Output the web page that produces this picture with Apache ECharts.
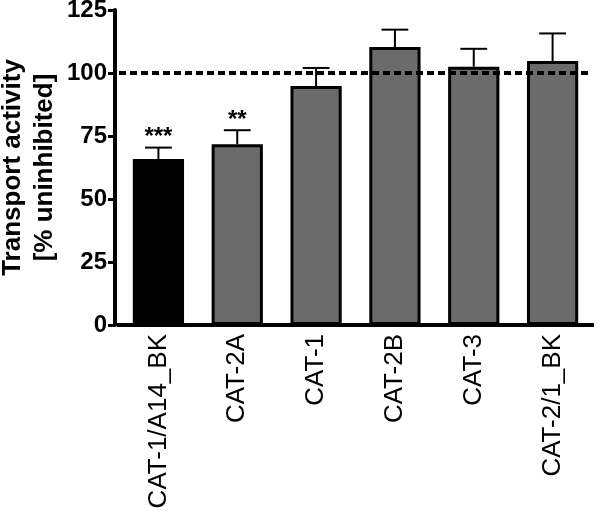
<!DOCTYPE html>
<html><head><meta charset="utf-8">
<script src="https://cdn.jsdelivr.net/npm/echarts@6/dist/echarts.min.js"></script>
<style>html,body{margin:0;padding:0;background:#fff}#c{width:600px;height:513px}</style>
</head><body><div id="c"></div>
<script>
const categories = ['CAT-1/A14_BK', 'CAT-2A', 'CAT-1', 'CAT-2B', 'CAT-3', 'CAT-2/1_BK'];
const means = [65.9, 71.7, 94.8, 110.3, 102.5, 104.8];
const errors = [4.5, 5.6, 7.2, 6.9, 7.1, 10.9];
const significance = ['***', '**', '', '', '', ''];
const barColors = ['#000000', '#6b6b6b', '#6b6b6b', '#6b6b6b', '#6b6b6b', '#6b6b6b'];
const yMin = 0, yMax = 125, yInterval = 25;
const referenceLevel = 100;
const yTitle = 'Transport activity\n[% uninhibited]';

const FONT = '"Liberation Sans", Arial, sans-serif';
const chart = echarts.init(document.getElementById('c'), null, {renderer: 'canvas'});

chart.setOption({
  animation: false,
  backgroundColor: '#fff',
  grid: {left: 119, right: 8, top: 10, bottom: 188, containLabel: false, outerBoundsMode: 'none'},
  xAxis: {
    type: 'category',
    data: categories,
    axisLine: {lineStyle: {color: '#000', width: 4, cap: 'square'}},
    axisTick: {show: false},
    axisLabel: {rotate: 90, fontSize: 26, color: '#000', fontFamily: FONT, margin: 9}
  },
  yAxis: {
    type: 'value',
    min: yMin, max: yMax, interval: yInterval,
    offset: 4,
    name: yTitle,
    nameLocation: 'middle',
    nameGap: 54,
    nameMoveOverlap: false,
    nameTextStyle: {fontSize: 26, fontWeight: 'bold', color: '#000', fontFamily: FONT, lineHeight: 32},
    axisLine: {show: true, lineStyle: {color: '#000', width: 4}},
    axisTick: {show: true, length: 7, lineStyle: {color: '#000', width: 3}},
    axisLabel: {fontSize: 24, fontWeight: 'bold', color: '#000', fontFamily: FONT, margin: 8},
    splitLine: {show: false}
  },
  series: [
    {
      type: 'line',
      data: [],
      z: 1,
      silent: true,
      markLine: {
        silent: true,
        symbol: ['none', 'none'],
        label: {show: false},
        lineStyle: {color: '#000', width: 4, type: [7, 4]},
        data: [{yAxis: referenceLevel}]
      }
    },
    {
      type: 'bar',
      z: 3,
      barWidth: '65%',
      data: means.map((v, i) => ({value: v, itemStyle: {color: barColors[i]}})),
      itemStyle: {borderColor: '#000', borderWidth: 3}
    },
    {
      type: 'custom',
      z: 4,
      data: means.map((v, i) => [i, v, errors[i]]),
      renderItem: function (params, api) {
        const i = api.value(0), m = api.value(1), e = api.value(2);
        const base = api.coord([i, m]);
        const top = api.coord([i, m + e]);
        const half = api.size([1, 0])[0] * 0.17;
        const children = [
          {type: 'line', shape: {x1: base[0], y1: base[1], x2: top[0], y2: top[1]}, style: {stroke: '#000', lineWidth: 2}},
          {type: 'line', shape: {x1: top[0] - half, y1: top[1], x2: top[0] + half, y2: top[1]}, style: {stroke: '#000', lineWidth: 2}}
        ];
        const s = significance[params.dataIndex];
        if (s) {
          children.push({type: 'text', x: top[0], y: top[1] - 10,
            style: {text: s, fill: '#000', font: 'bold 24px ' + FONT, align: 'center', verticalAlign: 'middle'}});
        }
        return {type: 'group', children: children};
      }
    }
  ]
});
</script>
</body></html>
